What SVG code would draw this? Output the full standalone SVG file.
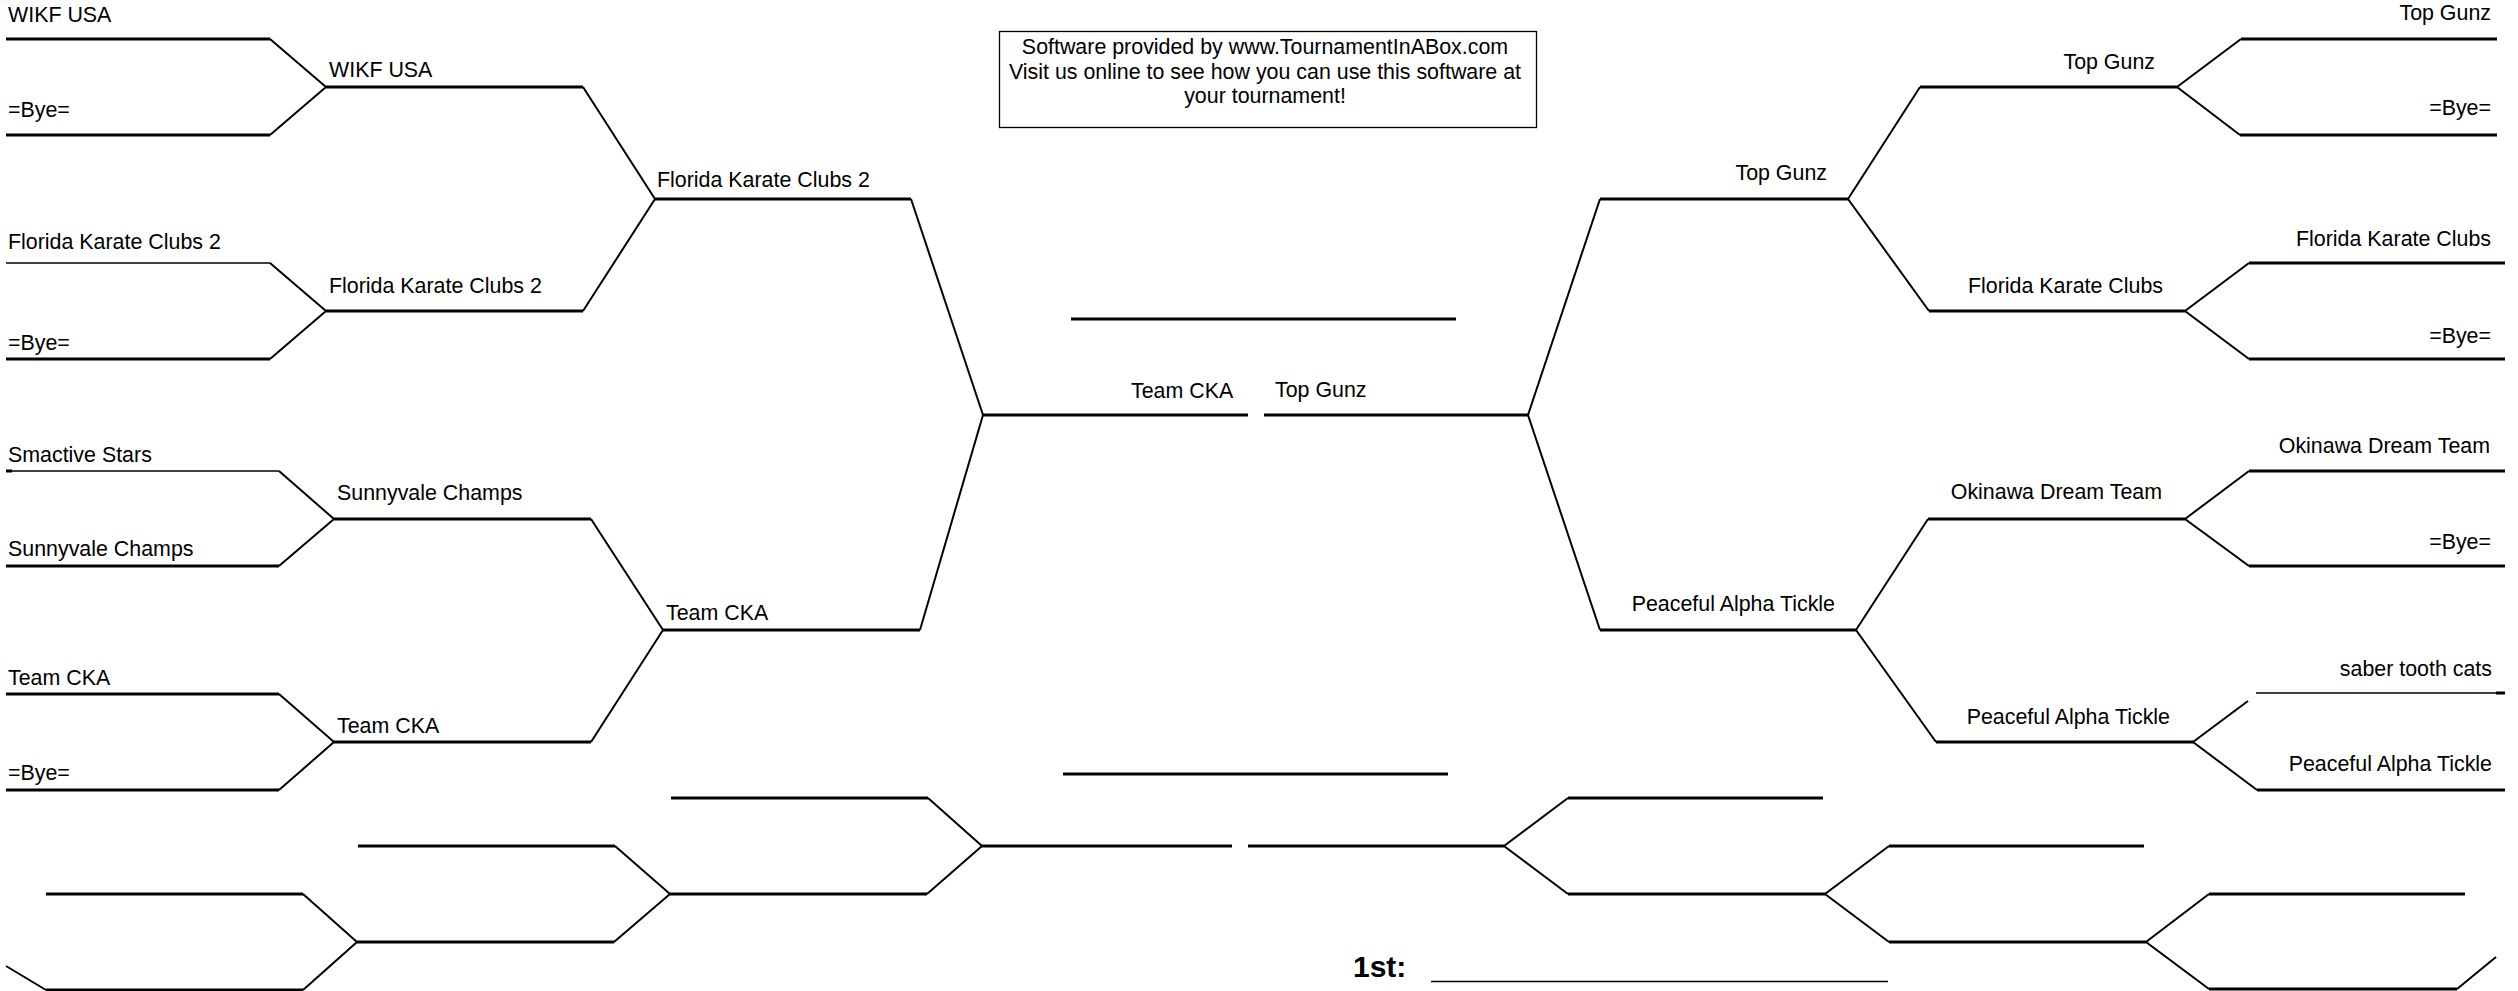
<svg xmlns="http://www.w3.org/2000/svg" width="2518" height="991" viewBox="0 0 2518 991">
<style>
.bg{fill:#fff}
.h{stroke:#000;stroke-width:3;fill:none}
.t{stroke:#000;stroke-width:1.4;fill:none}
.d{stroke:#000;stroke-width:2;fill:none}
text{font-family:"Liberation Sans",Arial,sans-serif;font-size:21.4px;fill:#000}
.e{text-anchor:end}
.m{text-anchor:middle}
.b{font-weight:bold;font-size:30px}
.box{fill:none;stroke:#000;stroke-width:1.3}
</style>
<rect class="bg" x="0" y="0" width="2518" height="991"/>
<g id="connectors">
<path class="h" d="M6 39H270M6 135H270M326 87H583"/>
<path class="d" d="M270 39L326 87L270 135M583 87L655 199"/>
<path class="t" d="M6 263H270"/>
<path class="h" d="M6 359H270M326 311H583"/>
<path class="d" d="M270 263L326 311L270 359M583 311L655 199"/>
<path class="h" d="M655 199H911"/>
<path class="d" d="M911 199L983 415"/>
<path class="t" d="M6 471H279"/>
<path class="h" d="M6 471H12M6 566H279M334 519H591"/>
<path class="d" d="M279 471L334 519L279 566M591 519L663 630"/>
<path class="h" d="M6 694H279M6 790H279M334 742H591"/>
<path class="d" d="M279 694L334 742L279 790M591 742L663 630"/>
<path class="h" d="M663 630H920"/>
<path class="d" d="M920 630L983 415"/>
<path class="h" d="M983 415H1248M1264 415H1528M1071 319H1456"/>
<path class="d" d="M1600 199L1528 415L1600 630"/>
<path class="h" d="M1600 199H1848M1600 630H1856"/>
<path class="d" d="M1848 199L1920 87M2241 39L2177 87L2240 135"/>
<path class="h" d="M1920 87H2177M2241 39H2497M2240 135H2497"/>
<path class="d" d="M1848 199L1929 311M2249 263L2185 311L2249 359"/>
<path class="h" d="M1929 311H2185M2249 263H2505M2249 359H2505"/>
<path class="d" d="M1856 630L1928 519M2249 471L2185 519L2249 566"/>
<path class="h" d="M1928 519H2185M2249 471H2505M2249 566H2505"/>
<path class="d" d="M1856 630L1936 742M2248 701L2193 742L2257 790"/>
<path class="h" d="M1936 742H2193M2257 790H2505M2496 693H2505"/>
<path class="t" d="M2256 693H2505"/>
<path class="h" d="M671 798H928M358 846H615M670 894H927M46 894H303M357 942H614M46 990H303"/>
<path class="d" d="M928 798L982 846L927 894M615 846L670 894L614 942M303 894L357 942L303 990M6 966L46 990"/>
<path class="h" d="M982 846H1232M1248 846H1504M1063 774H1448"/>
<path class="d" d="M1568 798L1504 846L1568 894M1889 846L1825 894L1889 942M2209 894L2146 942L2209 989M2457 989L2496 957"/>
<path class="h" d="M1568 798H1823M1568 894H1825M1889 846H2144M1889 942H2146M2209 894H2465M2209 989H2457"/>
<path class="t" d="M1431 981.5H1888"/>
</g>
<g id="sponsor">
<rect class="box" x="999.5" y="31.5" width="537" height="96"/>
<text class="m" x="1265" y="54">Software provided by www.TournamentInABox.com</text>
<text class="m" x="1265" y="79">Visit us online to see how you can use this software at</text>
<text class="m" x="1265" y="103">your tournament!</text>
</g>
<g id="left-labels">
<text x="8" y="22">WIKF USA</text>
<text x="8" y="117">=Bye=</text>
<text x="329" y="77">WIKF USA</text>
<text x="8" y="249">Florida Karate Clubs 2</text>
<text x="329" y="293">Florida Karate Clubs 2</text>
<text x="8" y="350">=Bye=</text>
<text x="657" y="187">Florida Karate Clubs 2</text>
<text x="8" y="462">Smactive Stars</text>
<text x="337" y="500">Sunnyvale Champs</text>
<text x="8" y="556">Sunnyvale Champs</text>
<text x="8" y="685">Team CKA</text>
<text x="337" y="733">Team CKA</text>
<text x="8" y="780">=Bye=</text>
<text x="666" y="620">Team CKA</text>
</g>
<g id="final-labels">
<text x="1131" y="398">Team CKA</text>
<text x="1275" y="397">Top Gunz</text>
</g>
<g id="right-labels">
<text class="e" x="2491" y="20">Top Gunz</text>
<text class="e" x="2155" y="69">Top Gunz</text>
<text class="e" x="2491" y="115">=Bye=</text>
<text class="e" x="1827" y="180">Top Gunz</text>
<text class="e" x="2491" y="246">Florida Karate Clubs</text>
<text class="e" x="2163" y="293">Florida Karate Clubs</text>
<text class="e" x="2491" y="343">=Bye=</text>
<text class="e" x="2490" y="453">Okinawa Dream Team</text>
<text class="e" x="2162" y="499">Okinawa Dream Team</text>
<text class="e" x="2491" y="549">=Bye=</text>
<text class="e" x="1835" y="611">Peaceful Alpha Tickle</text>
<text class="e" x="2492" y="676">saber tooth cats</text>
<text class="e" x="2170" y="724">Peaceful Alpha Tickle</text>
<text class="e" x="2492" y="771">Peaceful Alpha Tickle</text>
</g>
<g id="placement">
<text class="b" x="1353" y="977">1st:</text>
</g>
</svg>
